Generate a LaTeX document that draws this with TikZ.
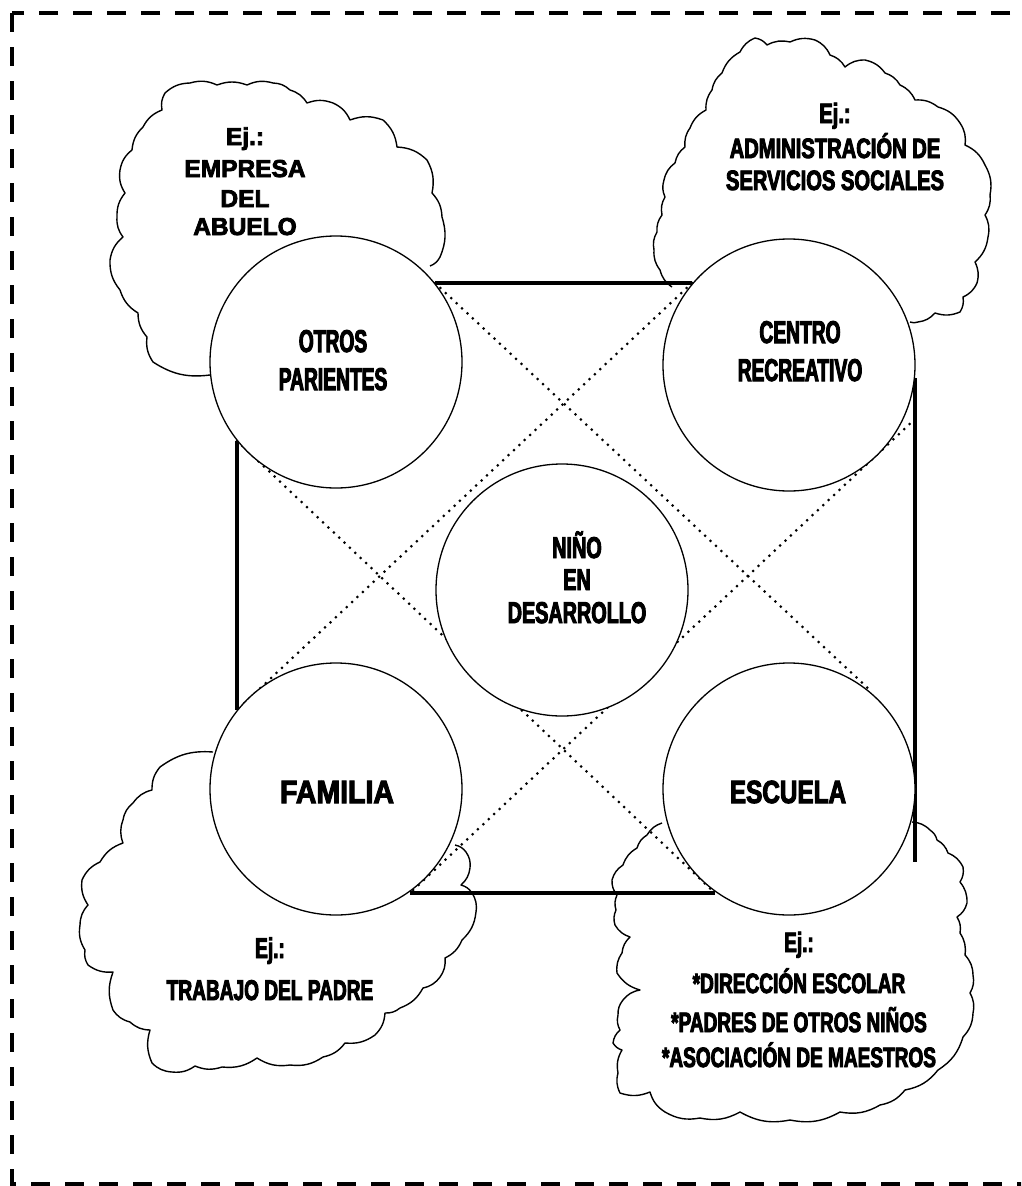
\documentclass[tikz,border=0pt]{standalone}
\usepackage{fontspec}
\setmainfont{Liberation Sans}
\newcommand\txf[2]{\fontsize{#1}{#1}\selectfont\bfseries\addfontfeatures{FakeStretch=#2,FakeBold=3.2}}
\begin{document}
\begin{tikzpicture}[x=1pt,y=-1pt,
  circ/.style={circle, draw, line width=1.3pt, fill=white, minimum size=252pt, inner sep=0pt},
  heavy/.style={line width=4.2pt},
  dots/.style={line width=3pt, line cap=round, dash pattern=on 0pt off 7.4pt},
  cloudline/.style={line width=1.4pt, line join=round},
  bl/.style={every to/.style={bend left=20}},
  br/.style={every to/.style={bend right=20}},
  lbl/.style={anchor=base, inner sep=0pt},
]
\useasboundingbox (0,0) rectangle (1021,1186);
\begin{scope}
  \clip (0,0) rectangle (1021,1186);
  \draw[line width=4pt, dash pattern=on 19pt off 15pt] (12,13) rectangle (1040,1184);
\end{scope}

% clouds
\draw[cloudline,bl] (210,375) to (153,362) to (147,337) to (138,313) to (120,290) to (110,260) to (123,237) to (117,217) to (125,193) to (120,170) to (132,150) to (143,127) to (162,110) to (165,93) to (190,83) to (217,85) to (247,85) to (273,83) to (290,90) to (307,103) to (333,103) to (350,120) to (383,120) to (397,147) to (427,160) to (432,193) to (442,217) to (440,257) to (430,266);

\draw[cloudline,bl] (672,287) to (660,270) to (654,250) to (657,232) to (662,215) to (665,197) to (664,180) to (675,163) to (685,147) to (690,128) to (706,110) to (712,90) to (722,73) to (740,52) to (755,38) to (767,45) to (790,42) to (815,40) to (830,55) to (845,67) to (865,60) to (885,73) to (900,85) to (915,100) to (938,107) to (960,123) to (965,145) to (985,165) to (990,195) to (985,215) to (988,237) to (975,262) to (977,283) to (963,297) to (960,312) to (935,313) to (918,322) to (910,322);

\draw[cloudline,br] (213,752) to (160,767) to (152,790) to (133,803) to (123,820) to (123,843) to (100,862) to (82,880) to (88,905) to (80,925) to (85,950) to (88,965) to (113,972) to (113,1010) to (130,1022) to (150,1030) to (152,1063) to (172,1072) to (195,1066) to (222,1067) to (257,1058) to (290,1065) to (323,1057) to (345,1043) to (375,1035) to (385,1013) to (400,1008) to (423,988) to (440,977) to (445,958) to (462,940) to (476,912) to (472,893) to (461,885) to (470,868) to (466,852) to (455,845);

\draw[cloudline,br] (662,823) to (647,835) to (637,848) to (623,865) to (612,880) to (617,895) to (616,910) to (615,925) to (630,937) to (622,953) to (617,973) to (640,990) to (623,1000) to (618,1015) to (620,1030) to (613,1043) to (622,1050) to (618,1073) to (620,1093) to (650,1092) to (665,1112) to (700,1118) to (740,1112) to (790,1120) to (840,1112) to (880,1105) to (905,1090) to (938,1070) to (963,1037) to (973,1013) to (970,993) to (973,975) to (965,955) to (960,933) to (957,917) to (967,903) to (960,882) to (963,867) to (948,853) to (937,840) to (930,830) to (912,822);

% square connectors
\coordinate (otT) at (435,283);
\coordinate (ceT) at (692,283);
\coordinate (ceR) at (915,378);
\coordinate (esR) at (915,862);
\coordinate (faB) at (410,893);
\coordinate (esB) at (715,893);
\coordinate (otL) at (237,441);
\coordinate (faL) at (237,710);
\coordinate (dA) at (872,692);
\coordinate (dD) at (915,419);
\draw[heavy] (otT) -- (ceT);
\draw[heavy] (ceR) -- (esR);
\draw[heavy] (faB) -- (esB);
\draw[heavy] (otL) -- (faL);
\draw[dots] (otT) -- (dA);
\draw[dots] (otL) -- (esB);
\draw[dots] (ceT) -- (faL);
\draw[dots] (dD) -- (faB);

% circles
\node[circ] (otros) at (336,362) {};
\node[circ] (centro) at (789,365) {};
\node[circ] (nino) at (562,590) {};
\node[circ] (familia) at (336,789) {};
\node[circ] (escuela) at (789,789) {};

% labels
\node[lbl, font=\txf{24.5}{1.0}] (t1a) at (245,145) {Ej.:};
\node[lbl, font=\txf{24.5}{1.0}] (t1b) at (245,177) {EMPRESA};
\node[lbl, font=\txf{24.5}{1.0}] (t1c) at (245,207) {DEL};
\node[lbl, font=\txf{24.5}{1.0}] (t1d) at (245,235) {ABUELO};

\node[lbl, font=\txf{28}{0.72}] (t2a) at (835,123) {Ej.:};
\node[lbl, font=\txf{28}{0.72}] (t2b) at (835,158) {ADMINISTRACIÓN DE};
\node[lbl, font=\txf{28}{0.72}] (t2c) at (835,190) {SERVICIOS SOCIALES};

\node[lbl, font=\txf{31.5}{0.61}] (c1a) at (333,352) {OTROS};
\node[lbl, font=\txf{31.5}{0.61}] (c1b) at (333,390) {PARIENTES};
\node[lbl, font=\txf{31.5}{0.61}] (c2a) at (800,343) {CENTRO};
\node[lbl, font=\txf{31.5}{0.61}] (c2b) at (800,381) {RECREATIVO};
\node[lbl, font=\txf{30}{0.66}] (c3a) at (577,558) {NIÑO};
\node[lbl, font=\txf{30}{0.66}] (c3b) at (577,590) {EN};
\node[lbl, font=\txf{30}{0.66}] (c3c) at (577,623) {DESARROLLO};
\node[lbl, font=\txf{32}{0.89}] (c4) at (337,803) {FAMILIA};
\node[lbl, font=\txf{32}{0.76}] (c5) at (788,803) {ESCUELA};

\node[lbl, font=\txf{28.5}{0.67}] (t3a) at (270,958) {Ej.:};
\node[lbl, font=\txf{28.5}{0.67}] (t3b) at (270,1000) {TRABAJO DEL PADRE};

\node[lbl, font=\txf{28}{0.68}] (t4a) at (799,952) {Ej.:};
\node[lbl, font=\txf{28}{0.68}] (t4b) at (799,993) {*DIRECCIÓN ESCOLAR};
\node[lbl, font=\txf{28}{0.68}] (t4c) at (799,1032) {*PADRES DE OTROS NIÑOS};
\node[lbl, font=\txf{28}{0.68}] (t4d) at (799,1067) {*ASOCIACIÓN DE MAESTROS};
\end{tikzpicture}
\end{document}
